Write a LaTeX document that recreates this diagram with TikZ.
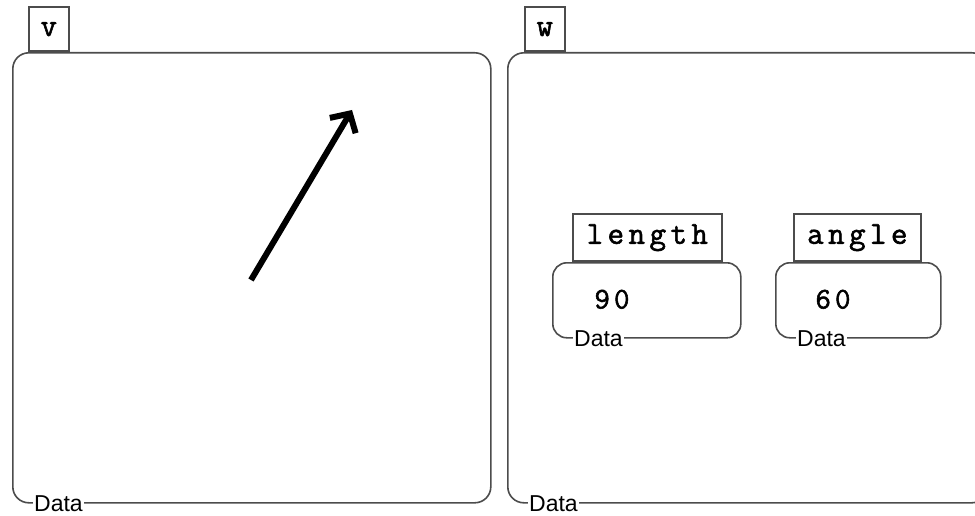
\documentclass[tikz,border=0pt]{standalone}
\usepackage{fontspec}
\setsansfont{Liberation Sans}
\newfontfamily\codefont[LetterSpace=14,FakeBold=1.8]{Latin Modern Mono}
\usetikzlibrary{positioning,arrows.meta}

\begin{document}
\begin{tikzpicture}[x=1pt,y=-1pt]
        \tikzset{frame/.style={draw=black!70, line width=1.6pt, rounded corners=16pt,
                anchor=north west, inner sep=0pt},
            tab/.style={draw=black!70, line width=1.6pt, anchor=south west, inner sep=0pt,
                font=\codefont\fontsize{32}{32}\selectfont},
            datalabel/.style={fill=white, inner sep=1pt, anchor=west,
                font=\sffamily\fontsize{23}{23}\selectfont},
            value/.style={font=\codefont\fontsize{30}{30}\selectfont}}
        \useasboundingbox (0,0) rectangle (975,516);
        % v
        \node[frame, minimum width=478pt, minimum height=450pt] (v) at (12,52) {};
        \node[tab, minimum width=40pt, minimum height=44pt] (vtab) at ([xshift=16pt]v.north west) {v};
        \node[datalabel] (vdata) at ([xshift=21pt]v.south west) {Data};
        \coordinate (tail) at (251,280);
        \coordinate (head) at (352,110);
        \draw[line width=6pt, -{Straight Barb[length=14pt, width=30pt]}] (tail) -- (head);
        % w
        \node[frame, minimum width=480pt, minimum height=450pt] (w) at (507,52) {};
        \node[tab, minimum width=40pt, minimum height=44pt] (wtab) at ([xshift=17pt]w.north west) {w};
        \node[datalabel] (wdata) at ([xshift=21pt]w.south west) {Data};
        % length
        \node[frame, rounded corners=14pt, minimum width=188pt, minimum height=75pt] (lenbox) at (552,262) {};
        \node[tab, minimum width=149pt, minimum height=47pt] (lentab) at ([xshift=20pt]lenbox.north west) {length};
        \node[value] (lenval) at ([xshift=60pt,yshift=1pt]lenbox.west) {90};
        \node[datalabel] (lendata) at ([xshift=21pt]lenbox.south west) {Data};
        % angle
        \node[frame, rounded corners=14pt, minimum width=165pt, minimum height=75pt] (angbox) at (775,262) {};
        \node[tab, minimum width=127pt, minimum height=47pt] (angtab) at ([xshift=18pt]angbox.north west) {angle};
        \node[value] (angval) at ([xshift=58pt,yshift=1pt]angbox.west) {60};
        \node[datalabel] (angdata) at ([xshift=21pt]angbox.south west) {Data};
    \end{tikzpicture}
\end{document}
